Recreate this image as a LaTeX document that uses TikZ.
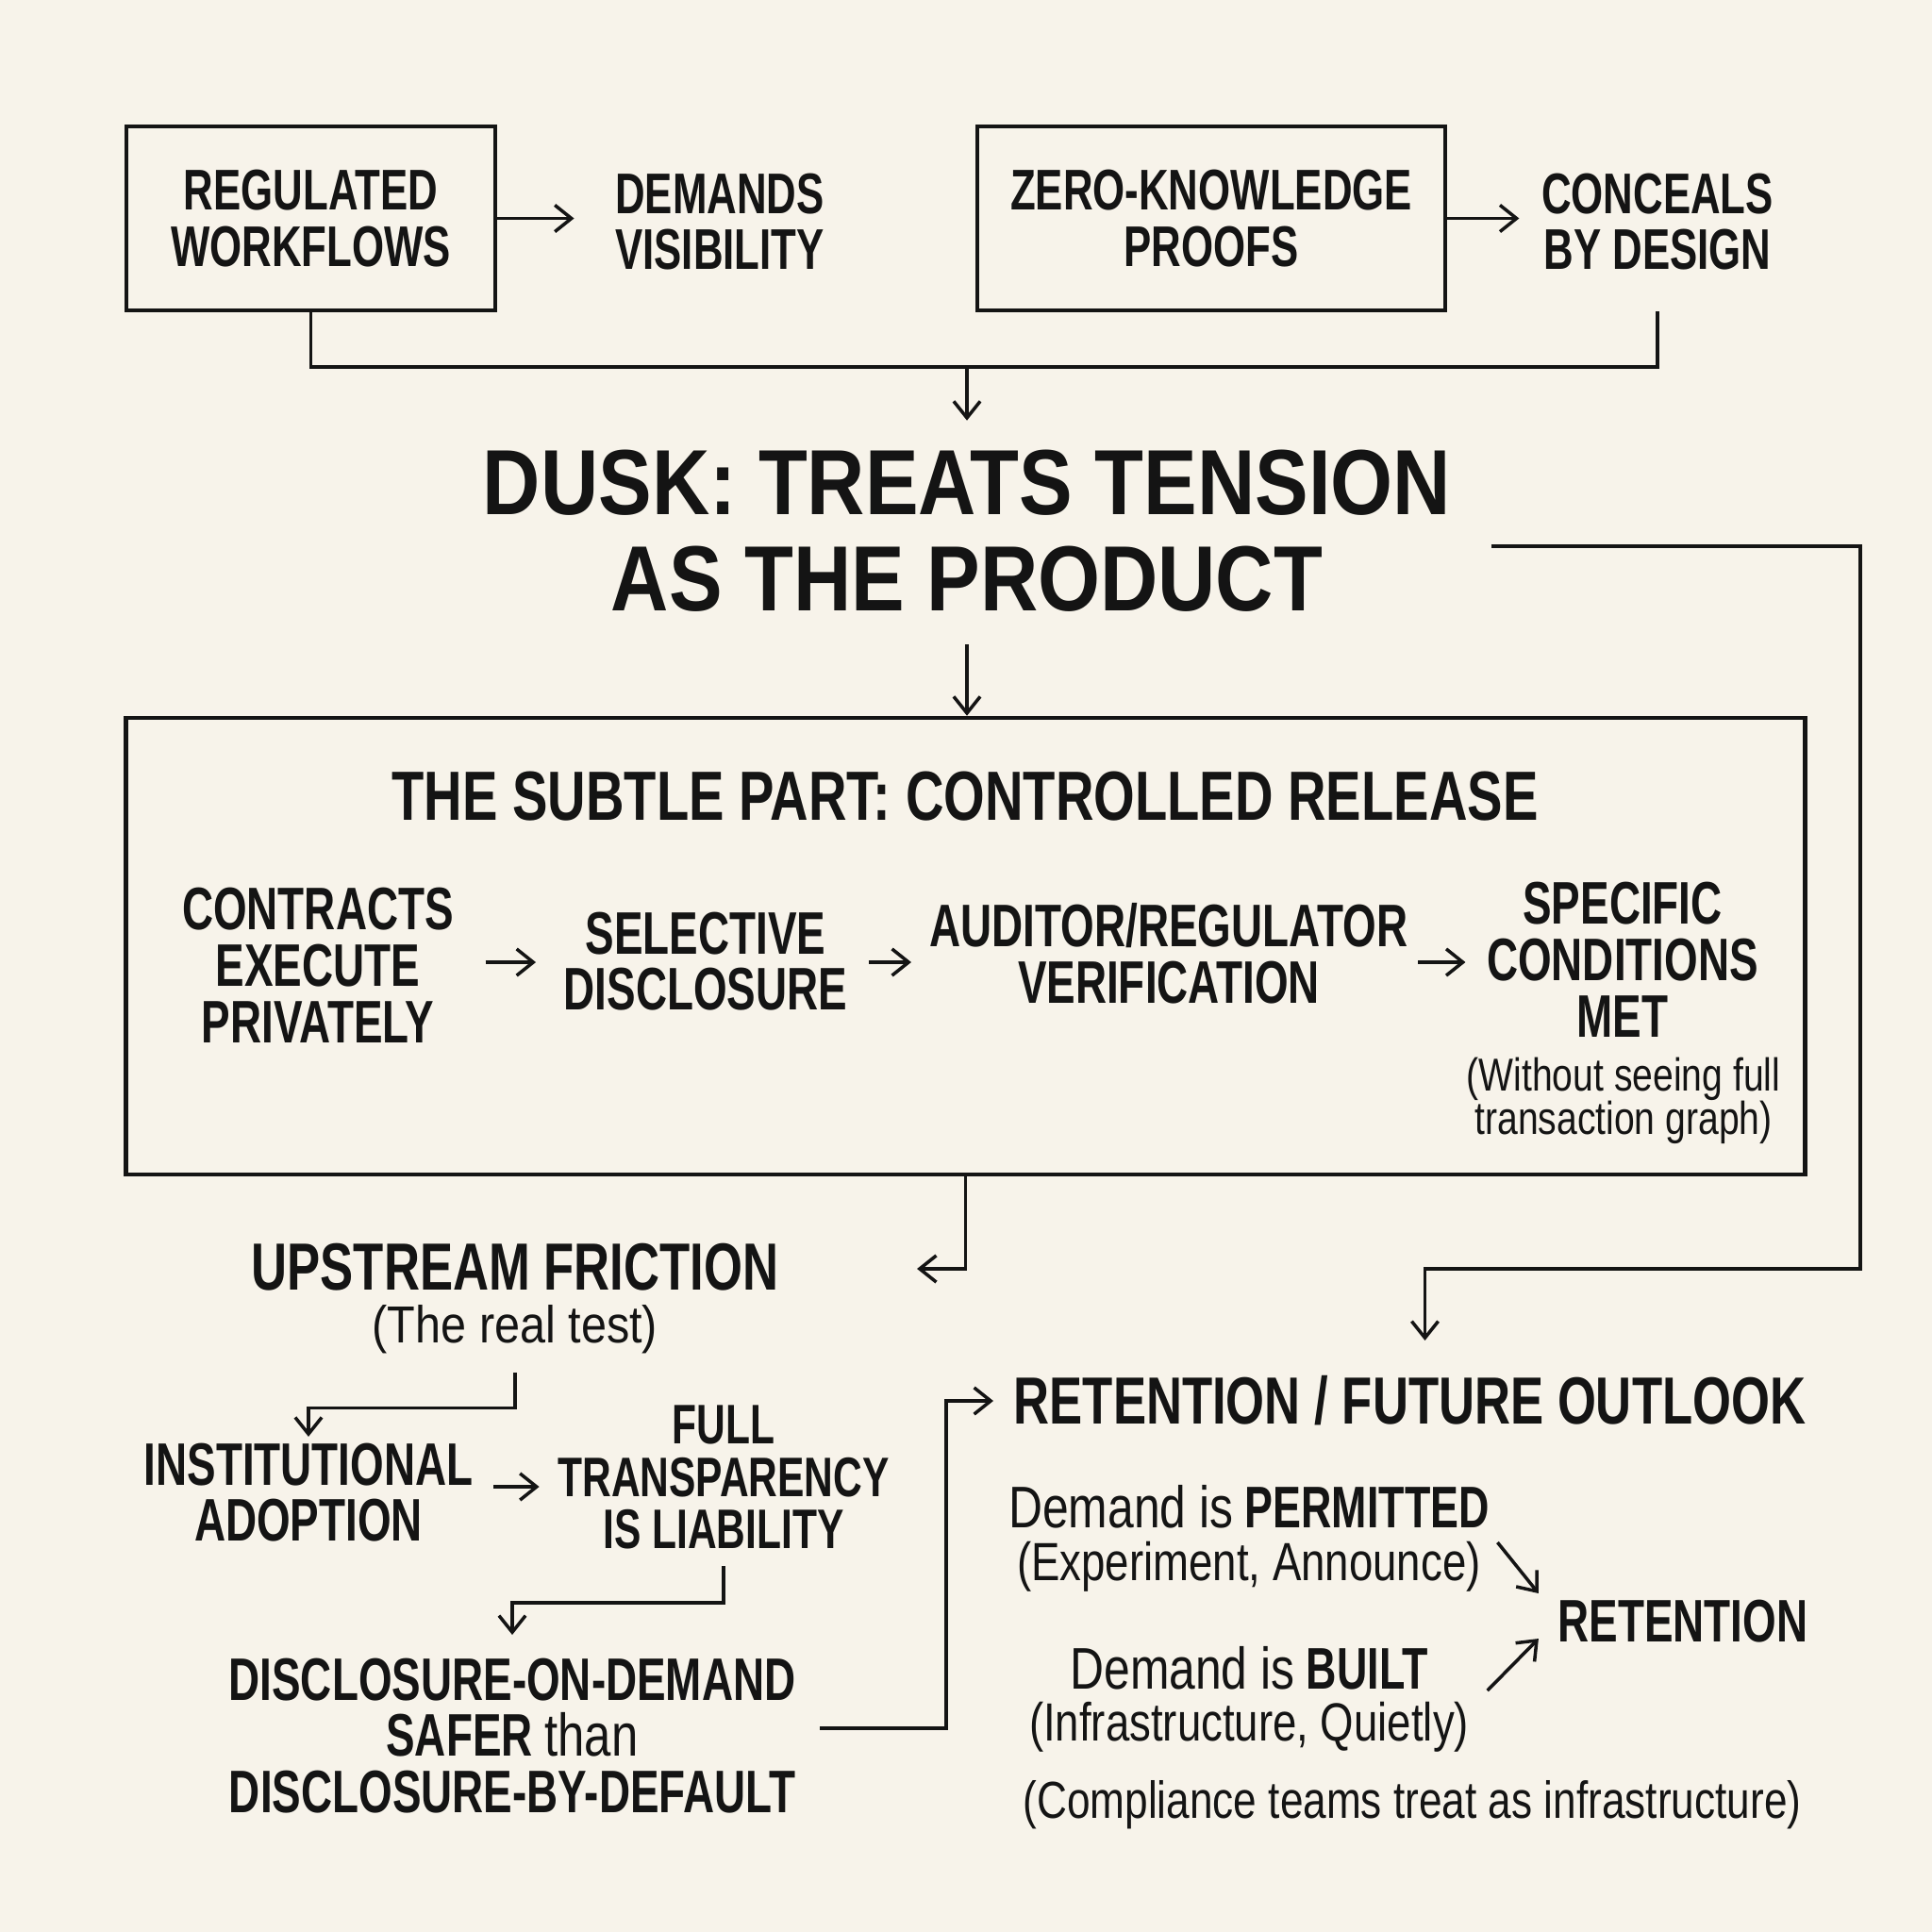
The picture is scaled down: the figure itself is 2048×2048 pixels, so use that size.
\documentclass[tikz,border=0pt]{standalone}
\usepackage{fontspec}
\setmainfont{Liberation Sans}
\newfontfamily\cbf{Liberation Sans}[FakeStretch=0.72]
\newfontfamily\cbfh{Liberation Sans}[FakeStretch=0.745]
\newfontfamily\cbfs{Liberation Sans}[FakeStretch=0.76]
\newfontfamily\ttlf{Liberation Sans}[FakeStretch=0.865]
\newfontfamily\regf{Liberation Sans}[FakeStretch=0.8]
\newfontfamily\regw{Liberation Sans}[FakeStretch=0.88]
\usetikzlibrary{arrows.meta,calc}
\definecolor{bg}{RGB}{247,243,234}
\definecolor{ink}{RGB}{20,20,20}
\tikzset{
  bx/.style={draw=ink,line width=1.2pt,inner sep=0pt,align=center,text=ink},
  tx/.style={inner sep=0pt,align=center,text=ink},
  fbox/.style={font=\cbf\bfseries\fontsize{17.3}{17}\selectfont},
  frow/.style={font=\cbf\bfseries\fontsize{18.1}{17}\selectfont},
  fhead/.style={font=\cbfh\bfseries\fontsize{20.1}{20}\selectfont},
  fsub/.style={font=\cbfs\bfseries\fontsize{21}{21}\selectfont},
  ftitle/.style={font=\ttlf\bfseries\fontsize{27.9}{28.9}\selectfont},
  freg/.style={font=\regf\fontsize{16.2}{15}\selectfont},
  fsmall/.style={font=\regf\fontsize{13.9}{13}\selectfont},
  fmix/.style={font=\cbf\bfseries\fontsize{17.7}{17}\selectfont},
  ln/.style={draw=ink,line width=1pt},
  arr/.style={draw=ink,line width=1pt,-{Straight Barb[length=5pt,width=8pt]}}
}
\begin{document}
\begin{tikzpicture}[x=0.01cm,y=-0.01cm]
\fill[bg] (0,0) rectangle (2048,2048);
\useasboundingbox (0,0) rectangle (2048,2048);

% top row
\node[bx,fbox,minimum width=3.91cm,minimum height=1.95cm] (rw) at (329.5,231.5) {REGULATED\\WORKFLOWS};
\node[tx,fbox] (dv) at (763,235) {DEMANDS\\VISIBILITY};
\node[bx,fbox,minimum width=4.96cm,minimum height=1.95cm] (zk) at (1284,231.5) {ZERO-KNOWLEDGE\\PROOFS};
\node[tx,fbox] (cd) at (1757,235) {CONCEALS\\BY DESIGN};
\draw[arr] (rw.east) -- ($(rw.east -| dv.west)+(-43,0)$);
\draw[arr] (zk.east) -- ($(zk.east -| cd.west)+(-23,0)$);
\coordinate (j1) at (1025,389);
\draw[ln] (rw.south) |- (j1) -| ($(cd.south)+(0,43)$);

% title
\node[tx,ftitle] (ttl) at (1025,563) {DUSK: TREATS TENSION\\AS THE PRODUCT};
\draw[arr] (j1) -- ($(ttl.north)+(0,-31)$);

% controlled release box
\node[bx,minimum width=17.79cm,minimum height=4.84cm] (cr) at (1023.5,1003) {};
\draw[arr] ($(ttl.south)+(0,34)$) -- (ttl.south |- cr.north);
\node[tx,fsub] (sub) at (1023,844) {THE SUBTLE PART: CONTROLLED RELEASE};
\node[tx,frow] (ce) at (337,1023) {CONTRACTS\\EXECUTE\\PRIVATELY};
\node[tx,frow] (sd) at (748,1019) {SELECTIVE\\DISCLOSURE};
\node[tx,frow] (av) at (1239,1011) {AUDITOR/REGULATOR\\VERIFICATION};
\node[tx,frow] (sc) at (1720,1017) {SPECIFIC\\CONDITIONS\\MET};
\node[tx,fsmall] (ws) at (1721,1167) {(Without seeing full\\transaction graph)};
\coordinate (rowy) at (0,1020);
\draw[arr] ($(ce.east |- rowy)+(33,0)$) -- ($(sd.west |- rowy)+(-29,0)$);
\draw[arr] ($(sd.east |- rowy)+(22,0)$) -- ($(av.west |- rowy)+(-19,0)$);
\draw[arr] ($(av.east |- rowy)+(10,0)$) -- ($(sc.west |- rowy)+(-22,0)$);

% upstream friction
\node[tx,fhead] (up) at (546,1343) {UPSTREAM FRICTION};
\node[tx,font=\regw\fontsize{15.7}{15}\selectfont] (rt) at (546,1409) {(The real test)};
\draw[arr] (cr.south) |- ($(up.east)+(146,2)$);
\node[tx,frow] (in) at (327,1582) {INSTITUTIONAL\\ADOPTION};
\draw[arr] ($(rt.south)+(0,20)$) -- ++(0,37) -| ($(in.north)+(0,-6)$);
\node[tx,font=\cbf\bfseries\fontsize{16.8}{15.9}\selectfont] (ft) at (767,1566) {FULL\\TRANSPARENCY\\IS LIABILITY};
\draw[arr] ($(in.east)+(21,-6)$) -- ($(in.east -| ft.west)+(-19,-6)$);
\node[tx,frow] (dd) at (543,1840) {DISCLOSURE-ON-DEMAND\\SAFER {\regf\mdseries than}\\DISCLOSURE-BY-DEFAULT};
\draw[arr] ($(ft.south)+(0,17)$) -- ++(0,39) -| ($(dd.north)+(0,-24)$);

% retention
\node[tx,fhead,anchor=west] (ret) at (1074,1485) {RETENTION / FUTURE OUTLOOK};
\draw[arr] ($(dd.east)+(25,-8)$) -| ($(ret.west)+(-71,0)$) -- ($(ret.west)+(-21,0)$);
\coordinate (rc) at (1972,1345);
\draw[arr] ($(ttl.east)+(42,16)$) -| (rc) -| ($(ret.north)+(16,-37)$);

\node[tx,fmix] (pm) at (1324,1597) {{\regf\mdseries Demand is} PERMITTED};
\node[tx,freg] (ea) at (1324,1661) {(Experiment, Announce)};
\node[tx,frow] (rn) at (1784,1719) {RETENTION};
\node[tx,fmix] (bu) at (1324,1768) {{\regf\mdseries Demand is} BUILT};
\node[tx,freg] (iq) at (1324,1831) {(Infrastructure, Quietly)};
\node[tx,font=\regf\fontsize{15.7}{16}\selectfont] (ct) at (1497,1913) {(Compliance teams treat as infrastructure)};
\draw[arr] ($(ea.east)+(17,-26)$) -- ($(rn.west)+(-20,-30)$);
\draw[arr] ($(iq.east)+(19,-39)$) -- ($(rn.west)+(-20,18)$);
\end{tikzpicture}
\end{document}
